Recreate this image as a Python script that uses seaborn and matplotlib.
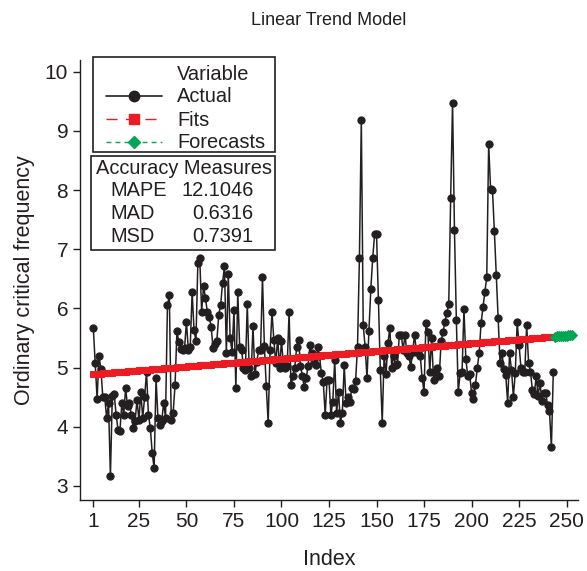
import numpy as np
import pandas as pd
import matplotlib
matplotlib.use("Agg")
import matplotlib.pyplot as plt
from matplotlib.lines import Line2D
from matplotlib.patches import Rectangle
import seaborn as sns

# ---------------- data ----------------
actual_1_46 = [5.67, 5.07, 4.47, 5.2, 4.97, 4.5, 4.5, 4.15, 4.4, 3.17,
               4.52, 4.55, 4.2, 3.95, 3.92, 4.4, 4.2, 4.65, 4.35, 4.4,
               4.2, 3.98, 4.1, 4.45, 4.11, 4.58, 4.15, 4.5, 4.93, 4.2,
               3.98, 3.55, 3.3, 4.82, 4.15, 4.03, 4.1, 4.4, 4.15, 6.05,
               6.22, 4.11, 4.23, 4.7, 5.61, 5.43]
actual_47_97 = [5.32, 5.3, 5.33, 5.77, 5.3, 5.35, 6.28, 5.63, 5.45, 6.77,
                6.85, 5.94, 6.38, 6.17, 5.94, 5.85, 5.69, 5.33, 5.4, 5.45,
                5.89, 6.06, 6.43, 6.71, 5.24, 6.58, 5.5, 5.27, 5.97, 4.65,
                6.28, 5.35, 5.3, 5.0, 4.95, 6.07, 4.99, 4.86, 5.7, 4.89,
                5.1, 5.29, 5.3, 6.53, 5.36, 4.68, 4.07, 5.29, 5.94, 5.46,
                5.07]
actual_98_176 = [5.5, 5.0, 5.45, 5.05, 5.0, 5.02, 5.94, 4.7, 4.85, 5.0,
                 5.35, 5.47, 5.03, 4.85, 4.67, 4.82, 5.03, 5.38, 5.24, 5.1,
                 5.04, 5.34, 5.2, 4.9, 4.76, 4.2, 4.79, 4.79, 4.2, 4.42,
                 5.13, 4.23, 4.59, 4.07, 4.23, 5.04, 4.4, 4.5, 4.42, 4.66,
                 4.63, 4.78, 5.35, 6.85, 9.18, 5.72, 5.35, 4.82, 5.62, 6.33,
                 6.85, 7.26, 7.26, 6.14, 4.95, 4.07, 5.2, 4.89, 5.41, 5.67,
                 5.0, 5.2, 5.04, 5.06, 5.55, 5.55, 5.3, 5.55, 5.24, 5.2,
                 5.01, 5.27, 5.55, 5.27, 5.27, 5.2, 4.82, 4.59, 5.76]
actual_177_243 = [5.6, 4.93, 5.5, 4.79, 4.93, 5.0, 4.85, 5.45, 5.6, 5.77,
                  5.92, 6.07, 7.86, 9.48, 7.33, 5.8, 4.59, 4.9, 4.93, 5.99,
                  5.14, 4.86, 4.89, 4.57, 4.47, 4.7, 4.99, 5.24, 5.75, 6.02,
                  6.28, 6.53, 8.78, 8.02, 8.0, 7.31, 6.57, 5.84, 5.08, 5.24,
                  4.97, 4.87, 4.4, 5.24, 4.96, 4.51, 4.91, 5.77, 5.38, 4.99,
                  4.93, 4.93, 5.72, 5.08, 4.93, 4.62, 4.55, 4.85, 4.52, 4.74,
                  4.44, 4.57, 4.57, 4.37, 4.27, 3.65, 4.93]
actual = actual_1_46 + actual_47_97 + actual_98_176 + actual_177_243

# linear trend model  Yt = b0 + b1*t
trend_intercept = 4.885
trend_slope = 0.00262
n_forecast = 10

x_ticks = [1, 25, 50, 75, 100, 125, 150, 175, 200, 225, 250]
y_ticks = [3, 4, 5, 6, 7, 8, 9, 10]

legend_title = "Variable"
series_names = ["Actual", "Fits", "Forecasts"]
accuracy_header = "Accuracy Measures"
accuracy_names = ["MAPE", "MAD", "MSD"]
accuracy_values = ["12.1046", "0.6316", "0.7391"]

title = "Linear Trend Model"
xlabel = "Index"
ylabel = "Ordinary critical frequency"

# ---------------- frames ----------------
n = len(actual)
t_act = np.arange(1, n + 1)
t_fc = np.arange(n + 1, n + n_forecast + 1)
df_act = pd.DataFrame({"Index": t_act, "Value": actual})
df_fit = pd.DataFrame({"Index": t_act, "Value": trend_intercept + trend_slope * t_act})
df_fc = pd.DataFrame({"Index": t_fc, "Value": trend_intercept + trend_slope * t_fc})

# ---------------- style ----------------
sns.set_style("ticks")
plt.rcParams["font.family"] = ["Liberation Sans", "DejaVu Sans"]

BLACK = "#231F20"
RED = "#ED1C24"
GREEN = "#00A651"

W, H = 587, 571
fig = plt.figure(figsize=(W / 100, H / 100), dpi=100)
ax = fig.add_axes([80 / W, 1 - 500 / H, 498 / W, 440 / H])

sns.lineplot(data=df_act, x="Index", y="Value", ax=ax, color=BLACK, lw=1.1,
             marker="o", markersize=5.2, markeredgecolor=BLACK, zorder=2)
sns.lineplot(data=df_fit, x="Index", y="Value", ax=ax, color=RED, lw=1.0,
             linestyle="--", marker="s", markersize=4.8, markeredgecolor=RED, zorder=3)
sns.lineplot(data=df_fc, x="Index", y="Value", ax=ax, color=GREEN, lw=1.0,
             linestyle="--", marker="D", markersize=4.8, markeredgecolor=GREEN, zorder=3)

ax.set_xlim(-6, 256)
ax.set_ylim(2.76, 10.2)
ax.set_xticks(x_ticks)
ax.set_yticks(y_ticks)
ax.tick_params(axis="both", labelsize=15, length=5, width=1, color=BLACK, labelcolor=BLACK)
for s in ["top", "right"]:
    ax.spines[s].set_visible(False)
for s in ["left", "bottom"]:
    ax.spines[s].set_color(BLACK)
    ax.spines[s].set_linewidth(1)

ax.set_xlabel(xlabel, fontsize=15.5, color=BLACK, labelpad=13)
ax.set_ylabel(ylabel, fontsize=15.5, color=BLACK, labelpad=7)
ax.set_title(title, fontsize=13, color=BLACK, pad=25)

# ---------------- legend ----------------
handles = [
    Line2D([], [], linestyle="none", marker=None),
    Line2D([], [], color=BLACK, lw=1.2, marker="o", markersize=7.5),
    Line2D([], [], color=RED, lw=1.0, dashes=(8, 6), marker="s", markersize=7),
    Line2D([], [], color=GREEN, lw=1.0, dashes=(3.5, 3), marker="D", markersize=6.5),
]
labels = [legend_title] + series_names
fig.legend(handles, labels, loc="upper left",
           bbox_to_anchor=(106 / W, 1 - 64.5 / H), frameon=False,
           fontsize=14.4, borderpad=0, borderaxespad=0, handlelength=2.8,
           handletextpad=0.75, labelspacing=0.2, numpoints=1,
           labelcolor=BLACK)

fig.patches.append(Rectangle((93 / W, 1 - 152 / H), 182 / W, 95 / H,
                             transform=fig.transFigure, fill=False,
                             edgecolor=BLACK, lw=1.2, zorder=5))
fig.patches.append(Rectangle((91 / W, 1 - 250 / H), 184 / W, 94 / H,
                             transform=fig.transFigure, fill=False,
                             edgecolor=BLACK, lw=1.2, zorder=5))

fig.text(96.5 / W, 1 - 168 / H, accuracy_header, fontsize=14.4, color=BLACK,
         ha="left", va="center")
for i, (nm, val) in enumerate(zip(accuracy_names, accuracy_values)):
    yy = 1 - (191 + i * 22.7) / H
    fig.text(110.5 / W, yy, nm, fontsize=14.4, color=BLACK, ha="left", va="center")
    fig.text(253.5 / W, yy, val, fontsize=14.4, color=BLACK, ha="right", va="center")

fig.savefig("out.png", dpi=100)
